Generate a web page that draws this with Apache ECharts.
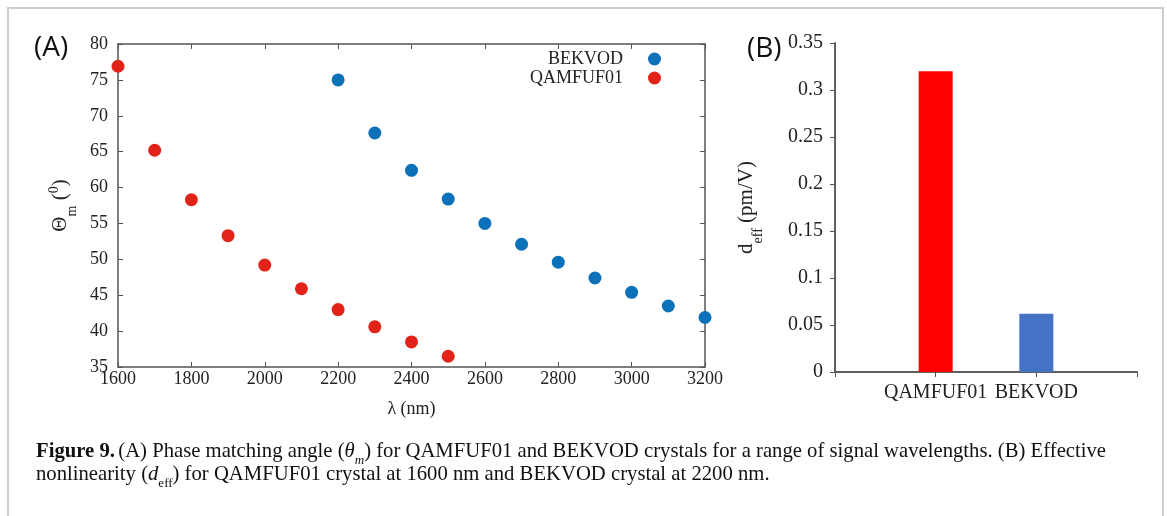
<!DOCTYPE html>
<html>
<head>
<meta charset="utf-8">
<script src="https://cdn.jsdelivr.net/npm/echarts@6/dist/echarts.min.js"></script>
<style>
  html, body { margin: 0; padding: 0; background: #fff; }
  #main { width: 1167px; height: 516px; }
</style>
</head>
<body>
<div id="main"></div>
<script>
// (A) 相位匹配角
var wavelengthsQ = [1600, 1700, 1800, 1900, 2000, 2100, 2200, 2300, 2400, 2500];
var thetaQ = [76.9, 65.2, 58.3, 53.3, 49.2, 45.9, 43.0, 40.6, 38.5, 36.5];
var wavelengthsB = [2200, 2300, 2400, 2500, 2600, 2700, 2800, 2900, 3000, 3100, 3200];
var thetaB = [75.0, 67.6, 62.4, 58.4, 55.0, 52.1, 49.6, 47.4, 45.4, 43.5, 41.9];

// (B) 有效非线性系数
var crystals = ['QAMFUF01', 'BEKVOD'];
var deff = [0.32, 0.062];

var serif = '"Liberation Serif", "DejaVu Serif", serif';
var axisColor = '#555';
var red = '#e2231a';
var blue = '#0b72b9';

function pairs(xs, ys) {
    return xs.map(function (x, i) { return [x, ys[i]]; });
}

var chart = echarts.init(document.getElementById('main'));

var tickInside = { show: true, inside: true, length: 5, lineStyle: { color: axisColor } };
var lineStyle = { color: axisColor, width: 1.5 };

var option = {
    backgroundColor: '#fff',
    animation: false,
    textStyle: { fontFamily: serif },
    grid: [
        { left: 118, top: 44, width: 587, height: 323 },
        { left: 835, top: 43, width: 302, height: 329 }
    ],
    legend: {
        orient: 'vertical',
        right: 501,
        top: 45,
        align: 'right',
        itemWidth: 13,
        itemHeight: 13,
        itemGap: 1,
        data: [
            { name: 'BEKVOD', icon: 'circle', itemStyle: { color: blue } },
            { name: 'QAMFUF01', icon: 'circle', itemStyle: { color: red } }
        ],
        textStyle: { fontFamily: serif, fontSize: 18, color: '#222', padding: [0, 20, 0, 0] }
    },
    xAxis: [
        {
            gridIndex: 0, type: 'value', min: 1600, max: 3200, interval: 200,
            name: 'λ (nm)', nameLocation: 'middle', nameGap: 33,
            nameTextStyle: { fontFamily: serif, fontSize: 18, color: '#222' },
            axisLine: { lineStyle: lineStyle },
            axisTick: tickInside,
            axisLabel: {
                fontFamily: serif, fontSize: 18, color: '#222', margin: 3,
                formatter: function (v) { return String(v); }
            },
            splitLine: { show: false }
        },
        {
            gridIndex: 0, type: 'value', position: 'top', min: 1600, max: 3200, interval: 200,
            axisLine: { show: true, lineStyle: lineStyle },
            axisTick: tickInside,
            axisLabel: { show: false },
            splitLine: { show: false }
        },
        {
            gridIndex: 1, type: 'value', min: 0, max: 3, interval: 1,
            axisLine: { lineStyle: lineStyle },
            axisTick: { show: false },
            axisLabel: {
                fontFamily: serif, fontSize: 20, color: '#222', margin: 11,
                formatter: function (v) { return crystals[v - 1] || ''; }
            },
            splitLine: { show: false }
        },
        {
            gridIndex: 1, type: 'value', position: 'top', min: 0, max: 3, interval: 1,
            axisLine: { show: true, lineStyle: lineStyle },
            axisTick: tickInside,
            axisLabel: { show: false },
            splitLine: { show: false }
        }
    ],
    yAxis: [
        {
            gridIndex: 0, type: 'value', min: 35, max: 80, interval: 5,
            name: '{a|Θ}{s|m}{a| (}{p|0}{a|)}',
            nameLocation: 'middle', nameGap: 45,
            nameTextStyle: {
                rich: {
                    a: { fontFamily: serif, fontSize: 21, color: '#222', lineHeight: 26 },
                    s: { fontFamily: serif, fontSize: 14, color: '#222', verticalAlign: 'bottom', lineHeight: 26, padding: [0, 0, -6, 0] },
                    p: { fontFamily: serif, fontSize: 14, color: '#222', verticalAlign: 'top', lineHeight: 26 }
                }
            },
            axisLine: { show: true, lineStyle: lineStyle },
            axisTick: tickInside,
            axisLabel: { fontFamily: serif, fontSize: 18, color: '#222', margin: 10 },
            splitLine: { show: false }
        },
        {
            gridIndex: 0, type: 'value', position: 'right', min: 35, max: 80, interval: 5,
            axisLine: { show: true, lineStyle: lineStyle },
            axisTick: tickInside,
            axisLabel: { show: false },
            splitLine: { show: false }
        },
        {
            gridIndex: 1, type: 'value', min: 0, max: 0.35, interval: 0.05,
            name: '{a|d}{s|eff}{a| (pm/V)}',
            nameLocation: 'middle', nameGap: 76,
            nameTextStyle: {
                rich: {
                    a: { fontFamily: serif, fontSize: 21, color: '#222', lineHeight: 26 },
                    s: { fontFamily: serif, fontSize: 14, color: '#222', verticalAlign: 'bottom', lineHeight: 26, padding: [0, 0, -6, 0] }
                }
            },
            axisLine: { show: true, lineStyle: lineStyle },
            axisTick: { show: false },
            axisLabel: { fontFamily: serif, fontSize: 20, color: '#222', margin: 12 },
            splitLine: { show: false }
        },
        {
            gridIndex: 1, type: 'value', position: 'right', min: 0, max: 0.35, interval: 0.05,
            axisLine: { show: true, lineStyle: lineStyle },
            axisTick: tickInside,
            axisLabel: { show: false },
            splitLine: { show: false }
        }
    ],
    series: [
        {
            name: 'BEKVOD', type: 'scatter', xAxisIndex: 0, yAxisIndex: 0,
            symbolSize: 13, itemStyle: { color: blue, opacity: 1 },
            data: pairs(wavelengthsB, thetaB)
        },
        {
            name: 'QAMFUF01', type: 'scatter', xAxisIndex: 0, yAxisIndex: 0,
            symbolSize: 13, itemStyle: { color: red, opacity: 1 },
            data: pairs(wavelengthsQ, thetaQ)
        },
        {
            name: 'deff', type: 'bar', xAxisIndex: 2, yAxisIndex: 2,
            barWidth: 34,
            data: crystals.map(function (c, i) {
                return {
                    value: [i + 1, deff[i]],
                    itemStyle: { color: i === 0 ? '#ff0000' : '#4472c4' }
                };
            })
        }
    ],
    graphic: [
        {
            type: 'rect', silent: true,
            shape: { x: 8, y: 8, width: 1155, height: 520 },
            style: { fill: 'none', stroke: '#cfcfcf', lineWidth: 2 }
        },
        {
            type: 'text', left: 34, top: 34,
            style: { text: '(A)', font: '28px "Open Sans", "DejaVu Sans", sans-serif', fill: '#111' }
        },
        {
            type: 'text', left: 747, top: 35,
            style: { text: '(B)', font: '28px "Open Sans", "DejaVu Sans", sans-serif', fill: '#111' }
        },
        {
            type: 'text', left: 36, top: 441,
            style: {
                text: '{b|Figure 9.} {n|(A) Phase matching angle (}{i|θ}{is|m}{n|) for QAMFUF01 and BEKVOD crystals for a range of signal wavelengths. (B) Effective}\n' +
                      '{n|nonlinearity (}{i|d}{ns|eff}{n|) for QAMFUF01 crystal at 1600 nm and BEKVOD crystal at 2200 nm.}',
                rich: {
                    b: { fontFamily: serif, fontSize: 20.7, fontWeight: 'bold', fill: '#111', lineHeight: 23 },
                    n: { fontFamily: serif, fontSize: 20.7, fill: '#111', lineHeight: 23 },
                    i: { fontFamily: serif, fontSize: 20.7, fontStyle: 'italic', fill: '#111', lineHeight: 23 },
                    is: { fontFamily: serif, fontSize: 13, fontStyle: 'italic', fill: '#111', verticalAlign: 'bottom', lineHeight: 23, padding: [0, 0, -4, 0] },
                    ns: { fontFamily: serif, fontSize: 13, fill: '#111', verticalAlign: 'bottom', lineHeight: 23, padding: [0, 0, -4, 0] }
                }
            }
        }
    ]
};

chart.setOption(option);
</script>
</body>
</html>
